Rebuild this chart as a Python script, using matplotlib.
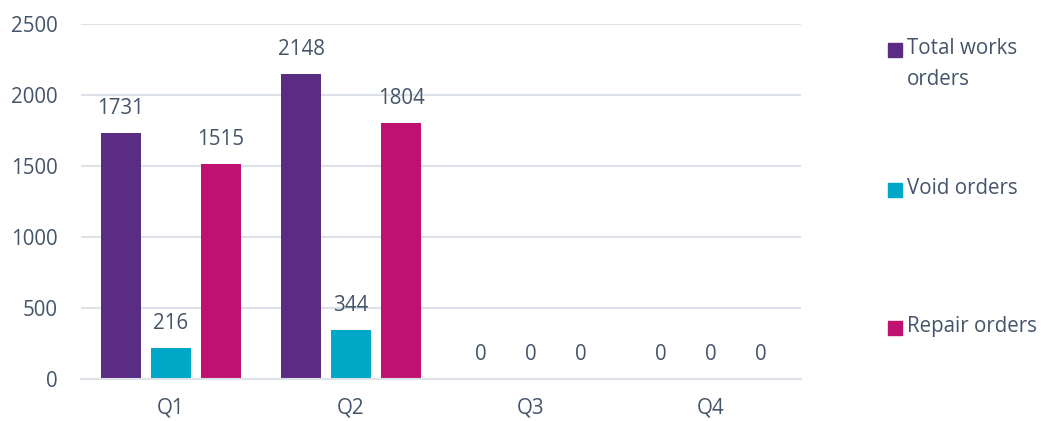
import numpy as np
import matplotlib
matplotlib.use("Agg")
import matplotlib.pyplot as plt
from matplotlib.patches import Rectangle

plt.rcParams["font.family"] = ["Open Sans", "DejaVu Sans"]

# Data
quarters = ["Q1", "Q2", "Q3", "Q4"]
series_names = ["Total works\norders", "Void orders", "Repair orders"]
total_works = [1731, 2148, 0, 0]
void_orders = [216, 344, 0, 0]
repair_orders = [1515, 1804, 0, 0]
yticks = [0, 500, 1000, 1500, 2000, 2500]

colors = ["#5B2C83", "#00A7C6", "#BE1170"]
text_color = "#44546A"
grid_color = "#DDE2E9"
fs = 14.8

fig = plt.figure(figsize=(10.44, 4.21), dpi=100)
ax = fig.add_axes([0.0776, 0.0998, 0.6897, 0.8432])

x = np.arange(len(quarters))
width = 0.222
offsets = [-0.278, 0, 0.278]
all_series = [total_works, void_orders, repair_orders]

for vals, off, col in zip(all_series, offsets, colors):
    bars = ax.bar(x + off, vals, width, color=col, zorder=3)
    for b, v in zip(bars, vals):
        ax.annotate(str(v), (b.get_x() + b.get_width() / 2, v),
                    xytext=(0, 10), textcoords="offset points",
                    ha="center", va="bottom", fontsize=fs, color=text_color)

ax.set_xlim(-0.5, 3.5)
ax.set_ylim(0, 2500)
ax.set_yticks(yticks)
ax.set_xticks(x)
ax.set_xticklabels(quarters)
ax.tick_params(axis="both", length=0, labelsize=fs, labelcolor=text_color)
ax.tick_params(axis="y", pad=17)
ax.tick_params(axis="x", pad=13)
ax.yaxis.grid(True, color=grid_color, linewidth=1.5, zorder=0)
for s in ["top", "right", "left"]:
    ax.spines[s].set_visible(False)
ax.spines["bottom"].set_color(grid_color)
ax.spines["bottom"].set_linewidth(1.5)
ax.spines["bottom"].set_zorder(4)

# Legend drawn manually to match layout
legend_y = [50, 190, 328]  # pixel rows from top
for name, col, py in zip(series_names, colors, legend_y):
    yf = 1 - py / 421
    fig.patches.append(Rectangle((888 / 1044, yf - 7 / 421), 14 / 1044, 14 / 421,
                                 transform=fig.transFigure, color=col))
    fig.text(907 / 1044, yf + 12 / 421, name, ha="left", va="top",
             fontsize=fs, color=text_color, linespacing=1.6)

fig.savefig("out.png", dpi=100)
